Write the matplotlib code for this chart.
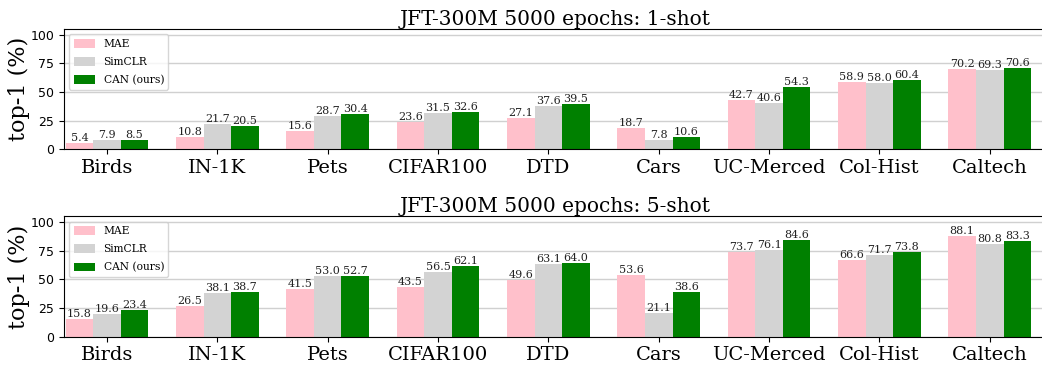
import numpy as np
import matplotlib
matplotlib.use("Agg")
import matplotlib.pyplot as plt

# ---------------------------------------------------------------------------- #
#                                     Data                                     #
# ---------------------------------------------------------------------------- #
datasets = ["Birds", "IN-1K", "Pets", "CIFAR100", "DTD", "Cars",
            "UC-Merced", "Col-Hist", "Caltech"]
methods = ["MAE", "SimCLR", "CAN (ours)"]
colors = ["pink", "lightgray", "green"]

# 1-shot top-1 accuracy
mae_1shot = [5.4, 10.8, 15.6, 23.6, 27.1, 18.7, 42.7, 58.9, 70.2]
simclr_1shot = [7.9, 21.7, 28.7, 31.5, 37.6, 7.8, 40.6, 58.0, 69.3]
can_1shot = [8.5, 20.5, 30.4, 32.6, 39.5, 10.6, 54.3, 60.4, 70.6]

# 5-shot top-1 accuracy
mae_5shot = [15.8, 26.5, 41.5, 43.5, 49.6, 53.6, 73.7, 66.6, 88.1]
simclr_5shot = [19.6, 38.1, 53.0, 56.5, 63.1, 21.1, 76.1, 71.7, 80.8]
can_5shot = [23.4, 38.7, 52.7, 62.1, 64.0, 38.6, 84.6, 73.8, 83.3]

panels = [
    ("JFT-300M 5000 epochs: 1-shot", [mae_1shot, simclr_1shot, can_1shot]),
    ("JFT-300M 5000 epochs: 5-shot", [mae_5shot, simclr_5shot, can_5shot]),
]

# ---------------------------------------------------------------------------- #
#                                   Plotting                                   #
# ---------------------------------------------------------------------------- #
W, H = 1042, 366
fig = plt.figure(figsize=(W / 100, H / 100), dpi=100)

ax_rects = [
    (64 / W, 1 - 149.3 / H, 982 / W, 120.3 / H),
    (64 / W, 1 - 336.7 / H, 982 / W, 120.3 / H),
]

x = np.arange(len(datasets))
width = 0.25
serif = "DejaVu Serif"

for rect, (title, series) in zip(ax_rects, panels):
    ax = fig.add_axes(rect)
    ax.set_axisbelow(True)
    ax.yaxis.grid(True, color="#d0d0d0", linewidth=1.0)

    for i, (name, vals, c) in enumerate(zip(methods, series, colors)):
        bars = ax.bar(x + (i - 1) * width, vals, width, color=c, label=name)
        ax.bar_label(bars, labels=[f"{v:.1f}" for v in vals], padding=0,
                     fontsize=8, family=serif, color="#222222")

    ax.set_xlim(-0.39, 8.51)
    ax.set_ylim(0, 105)
    ax.set_yticks([0, 25, 50, 75, 100])
    ax.tick_params(axis="y", labelsize=9)
    ax.set_xticks(x)
    ax.set_xticklabels(datasets, family=serif, fontsize=14)
    ax.set_ylabel("top-1 (%)", family=serif, fontsize=16, labelpad=0)
    ax.set_title(title, family=serif, fontsize=14.5, pad=3)
    ax.legend(loc="upper left", prop={"family": serif, "size": 7.7},
              handlelength=2.0, handleheight=0.9, labelspacing=0.75,
              framealpha=0.8)

fig.savefig("out.png", dpi=100)
